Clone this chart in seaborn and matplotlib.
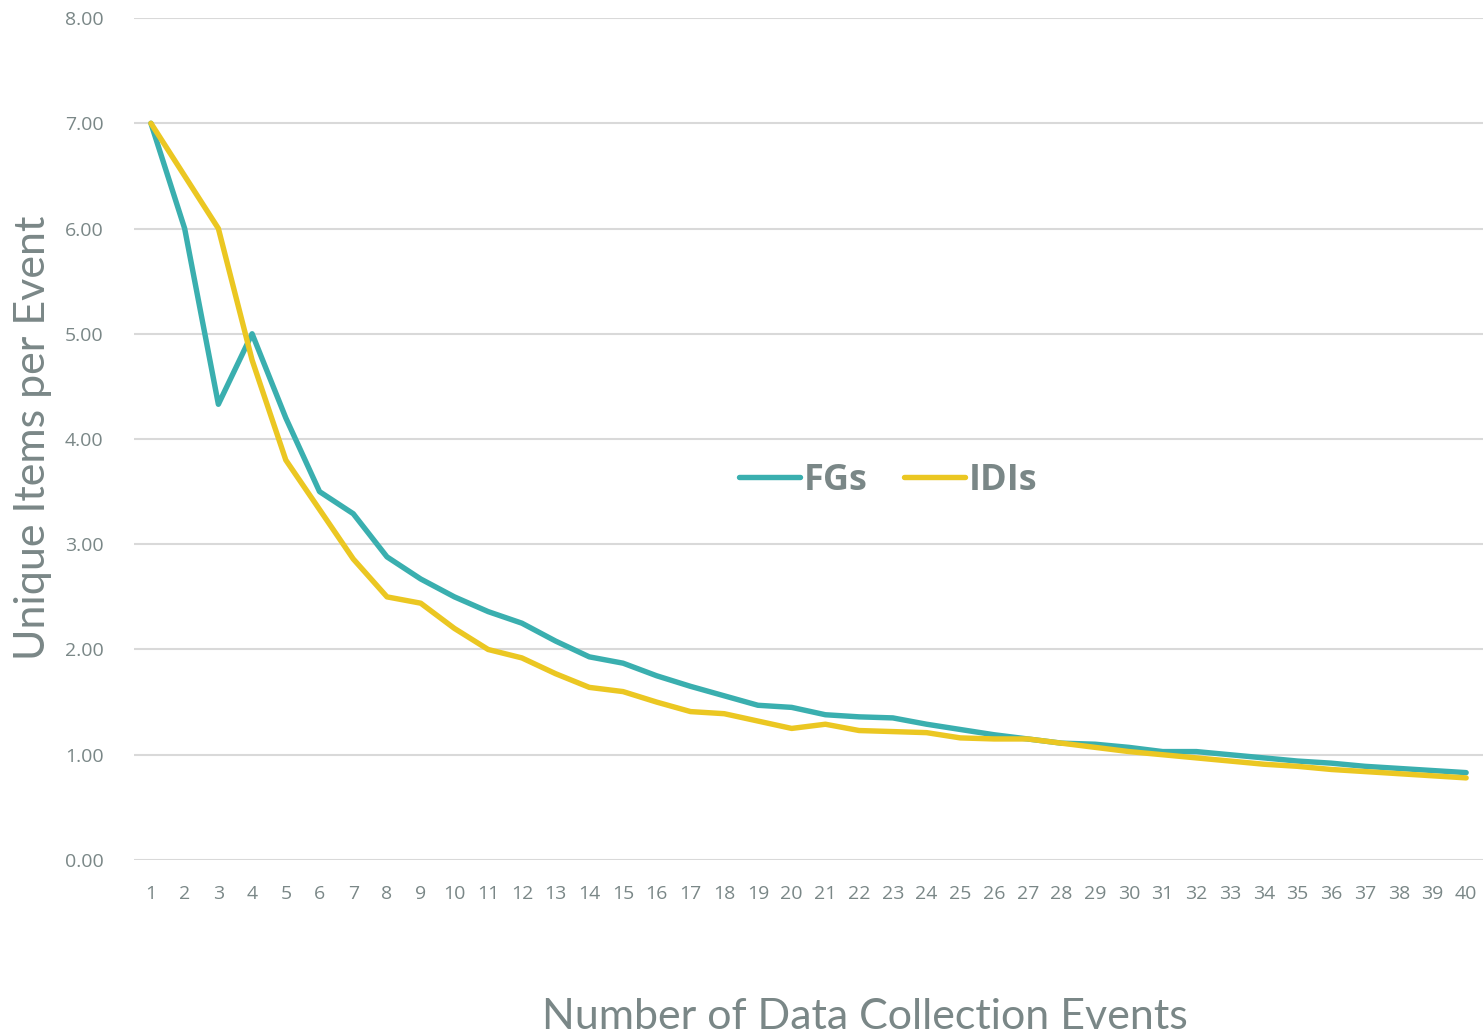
import matplotlib
matplotlib.use("Agg")
import matplotlib.pyplot as plt
import seaborn as sns
import numpy as np
import pandas as pd

# Data
events = list(range(1, 41))
fgs = [7.00, 6.00, 4.33, 5.00, 4.20, 3.50, 3.29, 2.88, 2.67, 2.50,
       2.36, 2.25, 2.08, 1.93, 1.87, 1.75, 1.65, 1.56, 1.47, 1.45,
       1.38, 1.36, 1.35, 1.29, 1.24, 1.19, 1.15, 1.11, 1.10, 1.07,
       1.03, 1.03, 1.00, 0.97, 0.94, 0.92, 0.89, 0.87, 0.85, 0.83]
idis = [7.00, 6.50, 6.00, 4.75, 3.80, 3.33, 2.86, 2.50, 2.44, 2.20,
        2.00, 1.92, 1.77, 1.64, 1.60, 1.50, 1.41, 1.39, 1.32, 1.25,
        1.29, 1.23, 1.22, 1.21, 1.16, 1.15, 1.15, 1.11, 1.07, 1.03,
        1.00, 0.97, 0.94, 0.91, 0.89, 0.86, 0.84, 0.82, 0.80, 0.78]
series_names = ["FGs", "IDIs"]
y_ticks = [0, 1, 2, 3, 4, 5, 6, 7, 8]

df = pd.DataFrame({
    "event": events * 2,
    "value": fgs + idis,
    "series": [series_names[0]] * len(events) + [series_names[1]] * len(events),
})

sns.set_style("white")
plt.rcParams["font.family"] = ["Open Sans", "DejaVu Sans"]

text_grey = "#7A8787"
colors = {"FGs": "#3AAFAF", "IDIs": "#EBC722"}

fig = plt.figure(figsize=(14.83, 10.36), dpi=100)
ax = fig.add_axes([0.0904, 0.1699, 0.9096, 0.8127])

sns.lineplot(data=df, x="event", y="value", hue="series", palette=colors,
             linewidth=3.9, ax=ax, solid_capstyle="round", solid_joinstyle="round")

ax.set_xlim(0.5, 40.5)
ax.set_ylim(0, 8)
ax.set_yticks(y_ticks)
ax.set_yticklabels([f"{v:.2f}" for v in y_ticks])
ax.set_xticks(events)
ax.set_xticklabels([str(e) for e in events])
ax.grid(axis="y", color="#D9D9D9", linewidth=1.5)
ax.set_axisbelow(True)
for s in ax.spines.values():
    s.set_visible(False)
ax.tick_params(axis="both", length=0, labelsize=14, labelcolor=text_grey)
ax.tick_params(axis="x", pad=18)
ax.tick_params(axis="y", pad=22)

ax.set_xlabel("")
ax.set_ylabel("")
fig.text(0.0222, 0.5775, "Unique Items per Event", rotation=90, ha="center", va="center",
         fontsize=31, color=text_grey, family=["Lato", "DejaVu Sans"])
fig.text(0.5833, 0.018, "Number of Data Collection Events", ha="center", va="center",
         fontsize=31, color=text_grey, family=["Lato", "DejaVu Sans"])

leg = ax.legend(loc="center", bbox_to_anchor=(0.559, 0.45), ncol=2, frameon=False,
                prop={"size": 26, "weight": "bold"}, handlelength=1.7,
                columnspacing=1.0, handletextpad=0.1)
for t in leg.get_texts():
    t.set_color(text_grey)
for h in leg.get_lines():
    h.set_linewidth(3.9)

fig.savefig("out.png", dpi=100)
